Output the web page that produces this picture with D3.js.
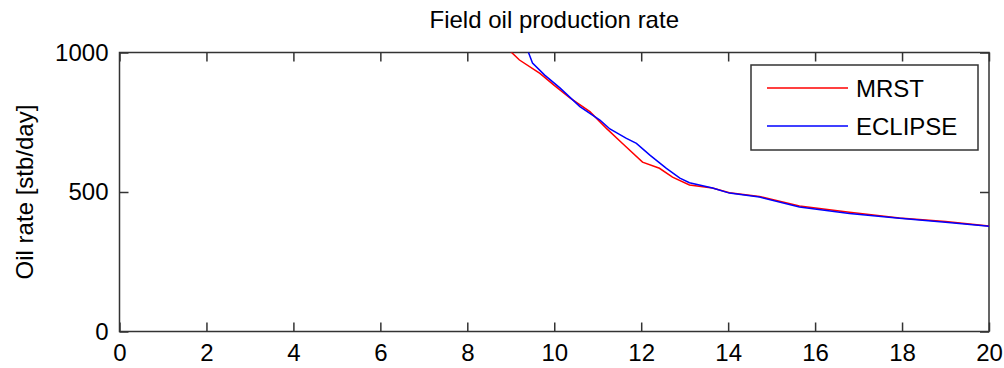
<!DOCTYPE html>
<html>
<head>
<meta charset="utf-8">
<script src="https://cdn.jsdelivr.net/npm/d3@7"></script>
<style>
  body { margin: 0; background: #fff; }
  text { font-family: "Liberation Sans", Arial, sans-serif; fill: #000; }
</style>
</head>
<body>
<svg id="chart" width="1004" height="368"></svg>
<script>
// MRST series (time in years, oil rate stb/day)
var mrstTime = [9.0, 9.2, 9.67, 10.0, 10.36, 10.82, 11.2, 11.57, 12.03, 12.42, 12.72, 13.11, 13.64, 14.03, 14.72, 15.64, 16.79, 17.94, 19.0, 20.0];
var mrstRate = [1003, 973, 925, 882, 837, 788, 728, 674, 607, 585, 553, 525, 514, 497, 484, 450, 427, 407, 394, 378];
// ECLIPSE series
var eclTime = [9.4, 9.5, 9.78, 10.13, 10.59, 11.05, 11.28, 11.66, 11.89, 12.2, 12.58, 12.89, 13.11, 13.64, 14.03, 14.72, 15.64, 16.79, 17.94, 19.0, 20.0];
var eclRate = [1003, 962, 919, 873, 806, 758, 726, 692, 674, 632, 585, 550, 533, 514, 496, 482, 446, 423, 406, 392, 377];

var xTicks = [0, 2, 4, 6, 8, 10, 12, 14, 16, 18, 20];
var yTicks = [0, 500, 1000];
var seriesNames = ["MRST", "ECLIPSE"];
var seriesColors = ["#ff0000", "#0000ff"];

(function () {
    var svg = d3.select("#chart"),
        margin = {top: 52.5, right: 15, bottom: 36.5, left: 119.5},
        width = +svg.attr("width") - margin.left - margin.right,
        height = +svg.attr("height") - margin.top - margin.bottom,
        g = svg.append("g").attr("transform", "translate(" + margin.left + "," + margin.top + ")");

    var x = d3.scaleLinear().domain([0, 20]).range([0, width]);
    var y = d3.scaleLinear().domain([0, 1000]).range([height, 0]);

    var axisColor = "#333";
    var tickLen = 9;

    // clip lines to plot box
    svg.append("defs").append("clipPath").attr("id", "clip")
        .append("rect").attr("width", width).attr("height", height);

    // ticks inward on all four sides
    function styleAxis(sel) {
        sel.select(".domain").remove();
        sel.selectAll(".tick line").attr("stroke", axisColor).attr("stroke-width", 1.5);
        sel.selectAll(".tick text").style("font-size", "24px");
    }

    g.append("g").attr("transform", "translate(0," + height + ")")
        .call(d3.axisBottom(x).tickValues(xTicks).tickSizeInner(-tickLen).tickSizeOuter(0).tickPadding(12))
        .call(styleAxis);
    g.append("g")
        .call(d3.axisTop(x).tickValues(xTicks).tickSizeInner(-tickLen).tickSizeOuter(0).tickFormat(""))
        .call(styleAxis);
    g.append("g")
        .call(d3.axisLeft(y).tickValues(yTicks).tickSizeInner(-tickLen).tickSizeOuter(0).tickPadding(11).tickFormat(d3.format("d")))
        .call(styleAxis);
    g.append("g").attr("transform", "translate(" + width + ",0)")
        .call(d3.axisRight(y).tickValues(yTicks).tickSizeInner(-tickLen).tickSizeOuter(0).tickFormat(""))
        .call(styleAxis);

    g.selectAll(".tick text").attr("fill", "#000");

    // plot box
    g.append("rect")
        .attr("width", width).attr("height", height)
        .attr("fill", "none").attr("stroke", axisColor).attr("stroke-width", 1.5);

    var line = d3.line()
        .x(function (d) { return x(d[0]); })
        .y(function (d) { return y(d[1]); });

    var series = [
        d3.zip(mrstTime, mrstRate),
        d3.zip(eclTime, eclRate)
    ];

    g.append("g").attr("clip-path", "url(#clip)")
        .selectAll("path")
        .data(series)
        .enter()
        .append("path")
        .attr("d", line)
        .attr("fill", "none")
        .attr("stroke", function (d, i) { return seriesColors[i]; })
        .attr("stroke-width", 1.5);

    // title
    svg.append("text")
        .attr("x", margin.left + width / 2)
        .attr("y", 28)
        .attr("text-anchor", "middle")
        .style("font-size", "24px")
        .text("Field oil production rate");

    // y label
    svg.append("text")
        .attr("transform", "translate(33," + (margin.top + height / 2) + ") rotate(-90)")
        .attr("text-anchor", "middle")
        .style("font-size", "24px")
        .text("Oil rate [stb/day]");

    // legend
    var lg = g.append("g").attr("transform", "translate(" + (width - 238) + ",12.5)");
    lg.append("rect")
        .attr("width", 227).attr("height", 85)
        .attr("fill", "#fff").attr("stroke", axisColor).attr("stroke-width", 1.5);
    var items = lg.selectAll(".item")
        .data(seriesNames)
        .enter()
        .append("g")
        .attr("transform", function (d, i) { return "translate(0," + (23 + i * 38) + ")"; });
    items.append("line")
        .attr("x1", 16).attr("x2", 97)
        .attr("stroke", function (d, i) { return seriesColors[i]; })
        .attr("stroke-width", 1.5);
    items.append("text")
        .attr("x", 105).attr("y", 9)
        .style("font-size", "24px")
        .text(function (d) { return d; });
})();
</script>
</body>
</html>
